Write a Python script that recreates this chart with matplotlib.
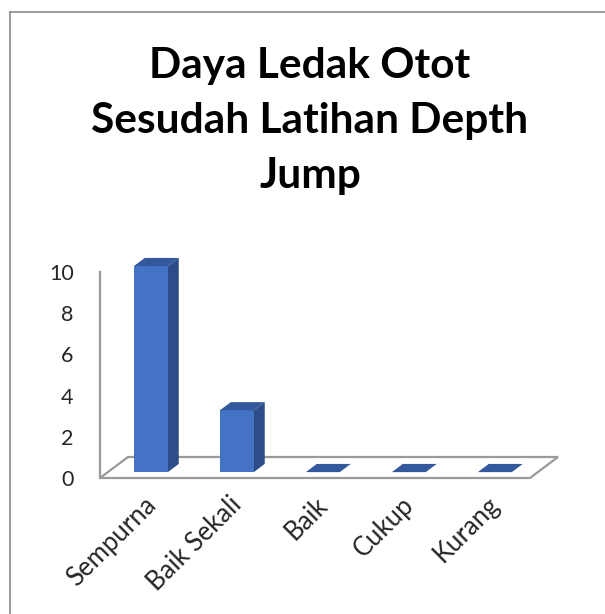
import numpy as np
import matplotlib.pyplot as plt
from matplotlib.patches import Polygon
from matplotlib.lines import Line2D

categories = ["Sempurna", "Baik Sekali", "Baik", "Cukup", "Kurang"]
values = [10, 3, 0, 0, 0]
yticks = [0, 2, 4, 6, 8, 10]
title = "Daya Ledak Otot\nSesudah Latihan Depth\nJump"

W, H = 605, 614
fig = plt.figure(figsize=(W / 100, H / 100), dpi=100)
plt.rcParams['font.family'] = ['Lato', 'DejaVu Sans']

# axes placed so the front plane of the floor matches the reference
x0, x1, yb, yt = 100, 530, 478, 272
ax = fig.add_axes([x0 / W, (H - yb) / H, (x1 - x0) / W, (yb - yt) / H])
ax.set_xlim(-0.5, 4.5)
ax.set_ylim(0, 10)
for s in ax.spines.values():
    s.set_visible(False)

# depth of the floor, converted from pixels to data units
dxd = 28 * 5 / (x1 - x0)
dyd = 21 * 10 / (yb - yt)
grey = '#9a9a9a'

floor = Polygon([(-0.5, 0), (4.5, 0), (4.5 + dxd, dyd), (-0.5 + dxd, dyd)],
                closed=True, fill=False, edgecolor=grey, lw=1.6, clip_on=False)
ax.add_patch(floor)
ax.plot([-0.5, -0.5], [0, 10], color=grey, lw=1.6, clip_on=False)

front_c, side_c, top_c = '#4472C4', '#2C4D87', '#34589C'
z0, z1 = 0.28, 0.67
w = 0.395 / 2
for i, v in enumerate(values):
    fx, fy = i + z0 * dxd, z0 * dyd
    bx, by = i + z1 * dxd, z1 * dyd
    if v > 0:
        ax.add_patch(Polygon([(bx + w, by), (fx + w, fy), (fx + w, fy + v), (bx + w, by + v)],
                             closed=True, facecolor=side_c, edgecolor='none', clip_on=False))
        ax.bar(fx, v, width=2 * w, bottom=fy, color=front_c, clip_on=False)
    ax.add_patch(Polygon([(fx - w, fy + v), (fx + w, fy + v), (bx + w, by + v), (bx - w, by + v)],
                         closed=True, facecolor=top_c, edgecolor='none', clip_on=False))

ax.set_yticks(yticks)
ax.set_yticklabels([str(t) for t in yticks], fontsize=15.5, color='#262626')
ax.tick_params(axis='y', length=0, pad=19)
ax.set_xticks(range(len(categories)))
ax.set_xticklabels(categories, rotation=45, ha='right', va='top',
                   rotation_mode='anchor', fontsize=18.5, color='#262626')
ax.tick_params(axis='x', length=0, pad=10)

fig.text(310 / W, 1 - 121 / H, title, ha='center', va='center',
         fontsize=30.5, fontweight='bold', linespacing=1.55)

# chart border (left and top edges visible)
fig.add_artist(Line2D([10 / W, 10 / W], [0, 1 - 12 / H], color='#8c8c8c', lw=1.2))
fig.add_artist(Line2D([10 / W, 1], [1 - 12 / H, 1 - 12 / H], color='#8c8c8c', lw=1.2))

fig.savefig('out.png', dpi=100)
